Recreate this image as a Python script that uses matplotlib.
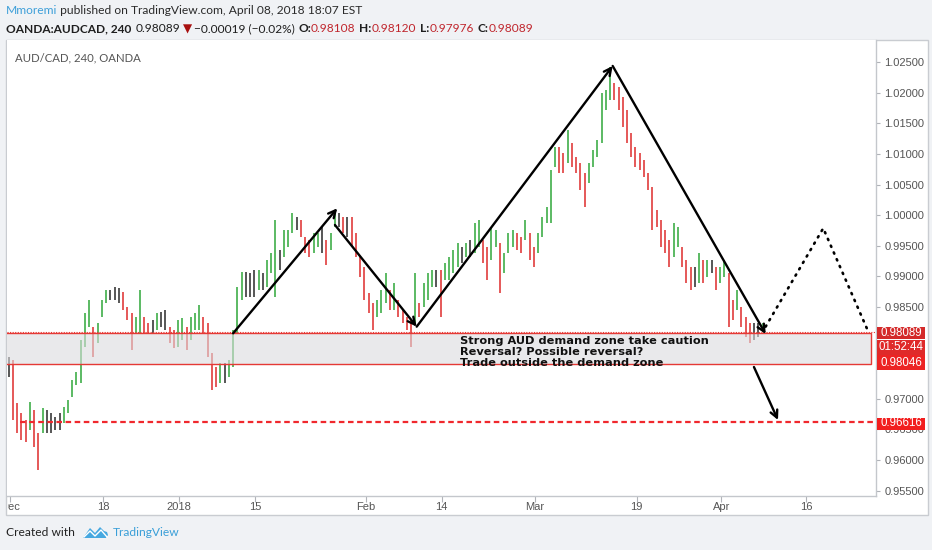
import numpy as np
import matplotlib
matplotlib.use("Agg")
import matplotlib.pyplot as plt
from matplotlib.patches import Rectangle, Polygon
from matplotlib.transforms import Bbox

W, H = 932, 550

# ---------------- data (AUD/CAD, half-day bar ranges) ----------------
bar_high = [
    0.9769, 0.9764, 0.9693, 0.9677, 0.9666, 0.9695, 0.9682, 0.9644, 0.9685, 0.9682,
    0.9677, 0.9670, 0.9677, 0.9687, 0.9698, 0.9731, 0.9744, 0.9796, 0.9840, 0.9862,
    0.9818, 0.9824, 0.9862, 0.9878, 0.9878, 0.9883, 0.9881, 0.9875, 0.9850, 0.9840,
    0.9834, 0.9878, 0.9834, 0.9824, 0.9829, 0.9840, 0.9842, 0.9845, 0.9818, 0.9813,
    0.9829, 0.9832, 0.9818, 0.9834, 0.9840, 0.9853, 0.9834, 0.9824, 0.9775, 0.9752,
    0.9759, 0.9759, 0.9764, 0.9813, 0.9883, 0.9907, 0.9907, 0.9906, 0.9911, 0.9911,
    0.9906, 0.9927, 0.9938, 0.9992, 0.9943, 0.9976, 0.9976, 1.0004, 0.9997, 0.9992,
    0.9965, 0.9960, 0.9971, 0.9971, 0.9981, 0.9960, 0.9971, 1.0009, 1.0004, 0.9997,
    0.9997, 0.9997, 0.9971, 0.9932, 0.9916, 0.9873, 0.9857, 0.9862, 0.9878, 0.9906,
    0.9878, 0.9889, 0.9862, 0.9845, 0.9834, 0.9829, 0.9906, 0.9857, 0.9889, 0.9906,
    0.9911, 0.9911, 0.9911, 0.9922, 0.9932, 0.9943, 0.9955, 0.9948, 0.9955, 0.9960,
    0.9987, 0.9992, 0.9960, 0.9948, 0.9981, 0.9976, 0.9955, 0.9938, 0.9971, 0.9976,
    0.9971, 0.9965, 0.9992, 0.9971, 0.9948, 0.9971, 0.9997, 1.0014, 1.0074, 1.0112,
    1.0112, 1.0102, 1.0139, 1.0118, 1.0095, 1.0086, 1.0069, 1.0086, 1.0107, 1.0123,
    1.0200, 1.0205, 1.0242, 1.0216, 1.0210, 1.0193, 1.0172, 1.0135, 1.0112, 1.0102,
    1.0090, 1.0069, 1.0046, 1.0009, 0.9992, 0.9976, 0.9960, 0.9987, 0.9981, 0.9948,
    0.9927, 0.9916, 0.9916, 0.9938, 0.9927, 0.9927, 0.9927, 0.9916, 0.9916, 0.9927,
    0.9906, 0.9862, 0.9878, 0.9850, 0.9834, 0.9824, 0.9824, 0.9824, 0.9824]

bar_low = [
    0.9736, 0.9666, 0.9644, 0.9633, 0.9630, 0.9649, 0.9621, 0.9584, 0.9644, 0.9644,
    0.9644, 0.9649, 0.9649, 0.9661, 0.9677, 0.9703, 0.9723, 0.9726, 0.9785, 0.9818,
    0.9769, 0.9791, 0.9834, 0.9857, 0.9862, 0.9862, 0.9857, 0.9845, 0.9829, 0.9780,
    0.9808, 0.9808, 0.9808, 0.9808, 0.9808, 0.9813, 0.9818, 0.9813, 0.9791, 0.9783,
    0.9785, 0.9796, 0.9780, 0.9796, 0.9813, 0.9813, 0.9808, 0.9769, 0.9715, 0.9719,
    0.9726, 0.9726, 0.9736, 0.9752, 0.9808, 0.9862, 0.9867, 0.9867, 0.9867, 0.9878,
    0.9878, 0.9883, 0.9906, 0.9867, 0.9911, 0.9932, 0.9948, 0.9971, 0.9976, 0.9965,
    0.9938, 0.9932, 0.9938, 0.9948, 0.9938, 0.9919, 0.9943, 0.9981, 0.9981, 0.9971,
    0.9965, 0.9948, 0.9932, 0.9899, 0.9862, 0.9840, 0.9813, 0.9834, 0.9840, 0.9857,
    0.9845, 0.9845, 0.9834, 0.9824, 0.9813, 0.9785, 0.9824, 0.9834, 0.9850, 0.9862,
    0.9883, 0.9883, 0.9834, 0.9894, 0.9894, 0.9906, 0.9916, 0.9922, 0.9932, 0.9932,
    0.9938, 0.9948, 0.9922, 0.9894, 0.9927, 0.9948, 0.9873, 0.9906, 0.9938, 0.9948,
    0.9943, 0.9938, 0.9960, 0.9927, 0.9916, 0.9938, 0.9965, 0.9987, 0.9987, 1.0079,
    1.0069, 1.0069, 1.0086, 1.0079, 1.0069, 1.0041, 1.0014, 1.0053, 1.0079, 1.0095,
    1.0118, 1.0172, 1.0188, 1.0188, 1.0172, 1.0144, 1.0118, 1.0095, 1.0079, 1.0074,
    1.0063, 1.0041, 0.9976, 0.9981, 0.9948, 0.9938, 0.9916, 0.9932, 0.9948, 0.9916,
    0.9889, 0.9878, 0.9883, 0.9889, 0.9889, 0.9899, 0.9906, 0.9878, 0.9889, 0.9899,
    0.9818, 0.9829, 0.9845, 0.9818, 0.9801, 0.9791, 0.9796, 0.9801, 0.9809]

first_bar_day = -0.13      # trading-day index of first bar (0 = Dec 1 2017)
bar_step_days = 0.5        # two bars per trading day

time_tick_days = [0, 11, 20, 29, 42, 51, 62, 74, 84, 94]
time_tick_labels = ["Dec", "18", "2018", "15", "Feb", "14", "Mar", "19", "Apr", "16"]
price_ticks = [0.955, 0.960, 0.965, 0.970, 0.975, 0.980, 0.985, 0.990, 0.995,
               1.000, 1.005, 1.010, 1.015, 1.020, 1.025]
hidden_price_ticks = [0.975, 0.980]   # covered by the price labels in the reference

zone_top, zone_bottom, zone_end_day = 0.98070, 0.97570, 101.68
last_price = 0.98089
zone_label_price = 0.98046
target_price = 0.96616
countdown_text = "01:52:44"

# drawn wave legs: (start_day, start_price, end_day, end_price)
wave_legs = [
    (26.37, 0.98072, 38.66, 1.00114),
    (38.39, 0.99842, 48.04, 0.98180),
    (48.04, 0.98180, 71.18, 1.02440),
    (71.18, 1.02440, 89.24, 0.98060),
    (87.86, 0.97521, 90.70, 0.96655),
]
proj_days = [89.24, 96.04, 101.36]
proj_prices = [0.98180, 0.99788, 0.98098]

zone_text = ["Strong AUD demand zone take caution",
             "Reversal? Possible reversal?",
             "Trade outside the demand zone"]
zone_text_day = 53.15
zone_text_prices = [0.97946, 0.97766, 0.97587]

# ---------------- figure ----------------
BG = "#f0f2f5"
fig = plt.figure(figsize=(W / 100, H / 100), dpi=100, facecolor=BG)

def fx(px):
    return px / W

def fy(py):
    return 1 - py / H

# chart panel
fig.add_artist(Rectangle((fx(6), fy(515)), 922 / W, 475 / H, transform=fig.transFigure,
                         facecolor="white", edgecolor="#c9ccd1", lw=1.0, zorder=-5))

ax = fig.add_axes([fx(7), fy(496), (876 - 7) / W, (496 - 40) / H])
ax.set_facecolor("white")
ax.set_xlim(-0.33, 102.27)
ax.set_ylim(0.95413, 1.02864)

for s in ["top", "left"]:
    ax.spines[s].set_visible(False)
for s in ["right", "bottom"]:
    ax.spines[s].set_color("#c4c7cc")
    ax.spines[s].set_linewidth(1.0)

# bars
n = len(bar_high)
days = first_bar_day + bar_step_days * np.arange(n)
hi = np.array(bar_high)
lo = np.array(bar_low)
mid = (hi + lo) / 2
dm = np.diff(mid, prepend=mid[0])
cols = ["#3fae49" if d > 0.0004 else ("#e03c3c" if d < -0.0004 else "#3a3a3a") for d in dm]
ax.vlines(days, lo, hi, colors=cols, linewidth=1.2, zorder=2)

# demand zone
ax.add_patch(Rectangle((-2, zone_bottom), zone_end_day + 2, zone_top - zone_bottom,
                       facecolor=(0.86, 0.86, 0.87, 0.6), edgecolor="#e53935", lw=1.0, zorder=3))
ax.axhline(last_price, color="#e53935", lw=0.8, ls=(0, (1, 1.3)), zorder=3)
ax.plot([1.2, 105], [target_price, target_price], color="#f0282d", lw=1.6,
        ls=(0, (2.5, 1.6)), zorder=3, clip_on=True)

for i, line in enumerate(zone_text):
    ax.text(zone_text_day, zone_text_prices[i], line, fontsize=8.2, fontweight="bold",
            family="DejaVu Sans", color="#111111", ha="left", va="center", zorder=6)

# wave arrows
for (d0, p0, d1, p1) in wave_legs:
    ax.annotate("", xy=(d1, p1), xytext=(d0, p0),
                arrowprops=dict(arrowstyle="->", lw=1.7, color="black",
                                mutation_scale=13, shrinkA=0, shrinkB=0), zorder=5)
ax.plot(proj_days, proj_prices, color="black", lw=1.9, ls=(0, (0.5, 2.3)),
        dash_capstyle="round", zorder=5)

# price axis
ax.yaxis.tick_right()
ax.set_yticks(price_ticks)
ax.set_yticklabels(["" if p in hidden_price_ticks else f"{p:.5f}" for p in price_ticks])
ax.tick_params(axis="y", length=3, width=0.8, color="#b0b3b8", labelcolor="#555555",
               labelsize=8, pad=3)
for t in ax.get_yticklabels():
    t.set_family("Liberation Sans")

# time axis
ax.set_xticks(time_tick_days)
ax.set_xticklabels([])
ax.tick_params(axis="x", length=4, width=0.8, color="#b0b3b8")
clipbox = Bbox.from_extents(8, 0, W, H)
for d, lab in zip(time_tick_days, time_tick_labels):
    t = ax.text(d, -11 / 456, lab, transform=ax.get_xaxis_transform(), ha="center",
                va="center", fontsize=8, family="Liberation Sans", color="#555555",
                clip_on=True)
    t.set_clip_box(clipbox)

# right-hand price labels
def price_box(y0, y1, color, text):
    fig.add_artist(Rectangle((fx(877), fy(y1)), 48 / W, (y1 - y0) / H,
                             transform=fig.transFigure, facecolor=color,
                             edgecolor="none", zorder=10))
    fig.text(fx(901), fy((y0 + y1) / 2), text, ha="center", va="center", fontsize=8.3,
             family="Liberation Sans", color="white", zorder=11)

price_box(326.5, 338.5, "#d42a2a", f"{last_price:.5f}")
price_box(339.5, 355, "#df2a2a", countdown_text)
price_box(355, 370, "#ec2424", f"{zone_label_price:.5f}")
price_box(417.5, 429.5, "#f21e1e", f"{target_price:.5f}")

# ---------------- header / footer text ----------------
fig.canvas.draw()
R = fig.canvas.get_renderer()

def width(t):
    return t.get_window_extent(renderer=R).width

def fit(t, target):
    t.set_fontsize(t.get_fontsize() * target / width(t))

FAM = ["Lato", "DejaVu Sans"]

t1 = fig.text(fx(6), fy(11), "Mmoremi", fontsize=9, family=FAM, color="#3d9fd9",
              ha="left", va="center")
t2 = fig.text(0, fy(11), " published on TradingView.com, April 08, 2018 18:07 EST",
              fontsize=9, family=FAM, color="#2a2a2a", ha="left", va="center")
tot = width(t1) + width(t2)
k = 356 / tot
for t in (t1, t2):
    t.set_fontsize(9 * k)
t2.set_x(fx(6 + width(t1)))

DARK, RED = "#1e1e1e", "#c0262d"
pieces = [("OANDA:AUDCAD, 240", "bold", DARK, 5),
          ("0.98089", "normal", DARK, 2),
          ("\u25bc", "normal", "#a81010", 2),
          ("\u22120.00019 (\u22120.02%)", "normal", DARK, 4),
          ("O:", "bold", DARK, 0), ("0.98108", "normal", RED, 4),
          ("H:", "bold", DARK, 0), ("0.98120", "normal", RED, 4),
          ("L:", "bold", DARK, 0), ("0.97976", "normal", RED, 4),
          ("C:", "bold", DARK, 0), ("0.98089", "normal", RED, 0)]
objs = []
for txt, wt, c, g in pieces:
    fam = ["DejaVu Sans"] if txt == "\u25bc" else FAM
    objs.append((fig.text(0, fy(29), txt, fontsize=9, fontweight=wt, family=fam, color=c,
                          ha="left", va="center", zorder=5), g))
tot = sum(width(o) + g for o, g in objs)
k = 524 / tot
for o, g in objs:
    o.set_fontsize(o.get_fontsize() * k)
x = 6
for o, g in objs:
    o.set_x(fx(x))
    x += width(o) + g * k

t = fig.text(fx(15), fy(58), "AUD/CAD, 240, OANDA", fontsize=9, family=FAM,
             color="#555555", ha="left", va="center", zorder=5)
fit(t, 127)

t = fig.text(fx(6), fy(533), "Created with", fontsize=9, family=FAM, color="#222222",
             ha="left", va="center")
fit(t, 69)
t = fig.text(fx(113), fy(533), "TradingView", fontsize=9, family=FAM, color="#3a9fd8",
             ha="left", va="center")
fit(t, 67)

# TradingView logo (simple cloud / zigzag)
logo = [(83, 538), (90, 528), (95, 533), (100, 527), (104, 531), (107, 532),
        (108, 535), (106, 538)]
fig.add_artist(Polygon([(fx(a), fy(b)) for a, b in logo], closed=True,
                       transform=fig.transFigure, facecolor="#46a8e0", edgecolor="none"))
zig = [(84, 537), (90, 531), (95, 536), (101, 530), (107, 537)]
fig.add_artist(plt.Line2D([fx(a) for a, b in zig], [fy(b) for a, b in zig],
                          transform=fig.transFigure, color="white", lw=1.0))

fig.savefig("out.png", dpi=100, facecolor=BG)
